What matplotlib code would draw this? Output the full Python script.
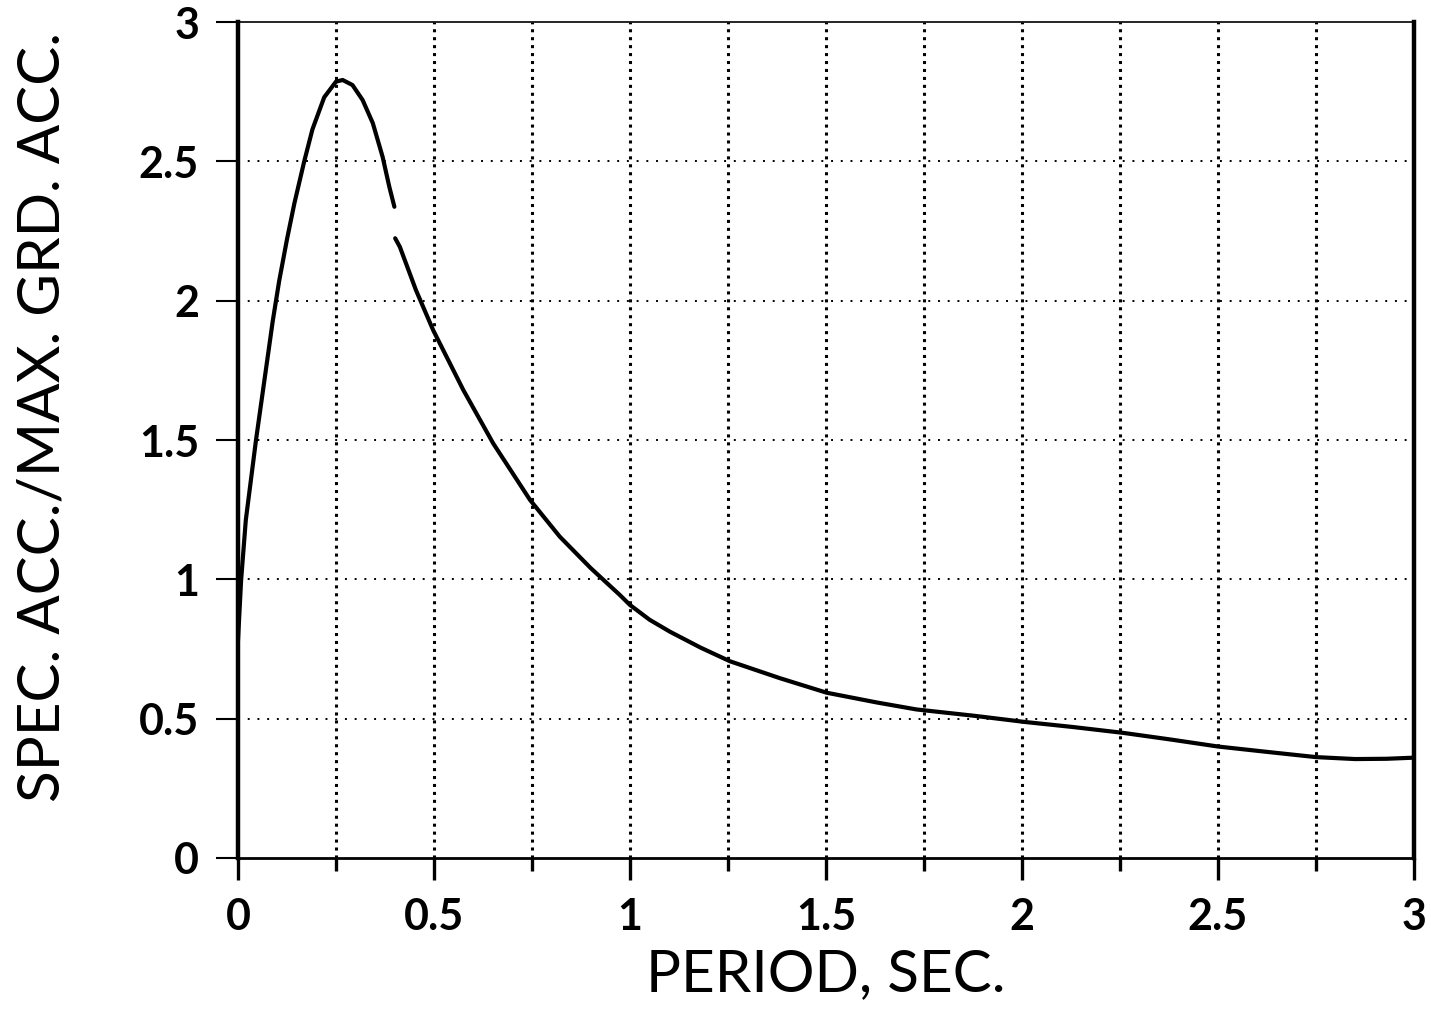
import numpy as np
import matplotlib.pyplot as plt
from matplotlib.ticker import MultipleLocator

# Rising branch + peak, up to the break near T = 0.4 s
period_a = [0.0, 0.008, 0.020, 0.046, 0.071, 0.0885, 0.105, 0.125, 0.144, 0.169,
            0.19, 0.22, 0.25, 0.267, 0.292, 0.318, 0.344, 0.369, 0.386, 0.399]
sa_a = [0.78, 0.997, 1.213, 1.50, 1.75, 1.925, 2.07, 2.22, 2.35, 2.50,
        2.615, 2.73, 2.786, 2.792, 2.774, 2.72, 2.637, 2.516, 2.409, 2.337]

# Descending branch after the break
period_b = [0.401, 0.413, 0.454, 0.498, 0.575, 0.651, 0.745, 0.821, 0.9, 0.974,
            1.0, 1.05, 1.102, 1.18, 1.255, 1.383, 1.502, 1.63, 1.731, 1.88, 2.008,
            2.13, 2.258, 2.38, 2.5, 2.63, 2.75, 2.85, 2.93, 3.0]
sa_b = [2.224, 2.193, 2.038, 1.894, 1.679, 1.488, 1.285, 1.153, 1.04, 0.944,
        0.908, 0.855, 0.812, 0.755, 0.706, 0.645, 0.593, 0.558, 0.533, 0.51,
        0.488, 0.47, 0.449, 0.425, 0.40, 0.38, 0.362, 0.355, 0.356, 0.36]


def main():
    plt.rcParams['font.family'] = ['Lato', 'DejaVu Sans']
    fig = plt.figure(figsize=(14.31, 10.15), dpi=100)
    ax = fig.add_axes([0.1663, 0.1547, 0.8218, 0.8236])

    ax.plot(period_a, sa_a, color='k', lw=3.0, solid_capstyle='round',
            solid_joinstyle='round')
    ax.plot(period_b, sa_b, color='k', lw=3.0, solid_capstyle='round',
            solid_joinstyle='round')

    ax.set_xlim(0, 3)
    ax.set_ylim(0, 3)
    ax.xaxis.set_major_locator(MultipleLocator(0.5))
    ax.xaxis.set_minor_locator(MultipleLocator(0.25))
    ax.yaxis.set_major_locator(MultipleLocator(0.5))

    # dotted grid: heavy verticals every 0.25, light horizontals every 0.5
    for xv in np.arange(0.25, 3.0, 0.25):
        ax.axvline(xv, color='k', ls=(0, (1, 1.6)), lw=2.2, zorder=0)
    for yv in np.arange(0.5, 3.0, 0.5):
        ax.axhline(yv, color='k', ls=(0, (1, 4)), lw=1.4, zorder=0)

    ax.spines['left'].set_linewidth(3.2)
    ax.spines['right'].set_linewidth(3.2)
    ax.spines['top'].set_linewidth(1.2)
    ax.spines['bottom'].set_linewidth(2.0)

    ax.tick_params(axis='x', which='major', direction='out', length=16, width=2.4, pad=12)
    ax.tick_params(axis='x', which='minor', direction='out', length=9, width=2.4)
    ax.tick_params(axis='y', which='major', direction='out', length=16, width=1.5, pad=12)

    ax.set_xticks([0, 0.5, 1, 1.5, 2, 2.5, 3])
    ax.set_xticklabels(['0', '0.5', '1', '1.5', '2', '2.5', '3'])
    ax.set_yticks([0, 0.5, 1, 1.5, 2, 2.5, 3])
    ax.set_yticklabels(['0', '0.5', '1', '1.5', '2', '2.5', '3'])
    for lab in ax.get_xticklabels() + ax.get_yticklabels():
        lab.set_fontsize(31)
        lab.set_fontweight('bold')

    ax.set_xlabel('PERIOD, SEC.', fontsize=42, labelpad=8)
    ax.set_ylabel('SPEC. ACC./MAX. GRD. ACC.', fontsize=42)
    ax.yaxis.set_label_coords(-0.143, 0.528)

    plt.savefig('out.png', dpi=100)


if __name__ == '__main__':
    main()
